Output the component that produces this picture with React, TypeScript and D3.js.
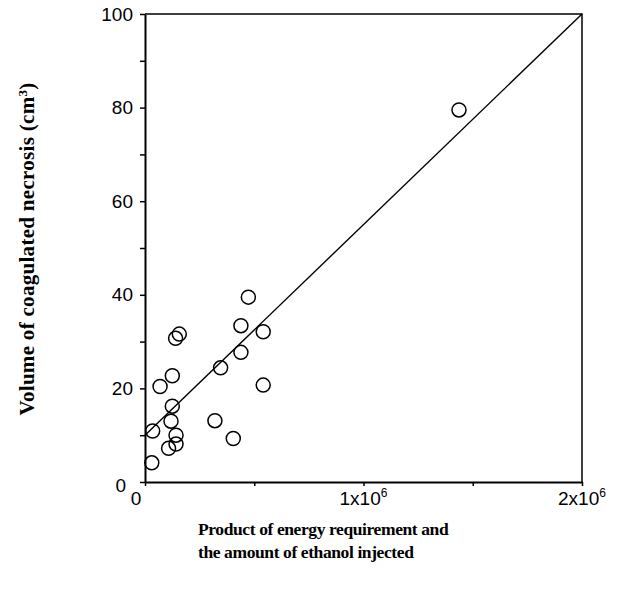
import { useRef, useEffect } from "react";
import * as d3 from "d3";

// energy x ethanol product vs necrosis volume
const energyProduct = [1437000, 473000, 439000, 541000, 157000, 140000, 439000, 346000, 125000, 69000,
  541000, 125000, 119000, 320000, 35000, 142000, 404000, 142000, 108000, 31000];
const necrosisVolume = [79.5, 39.5, 33.4, 32.1, 31.6, 30.7, 27.7, 24.4, 22.7, 20.4,
  20.7, 16.2, 13.0, 13.1, 10.9, 10.0, 9.3, 8.1, 7.2, 4.1];

// regression line end points
const fitX = [0, 2000000];
const fitY = [10, 100];

const yTicks = [0, 10, 20, 30, 40, 50, 60, 70, 80, 90, 100];
const yLabels = [0, 20, 40, 60, 80, 100];
const xTicks = [0, 500000, 1000000, 1500000, 2000000];
const xLabels = [
  { v: 0, base: "0", sup: "" },
  { v: 1000000, base: "1x10", sup: "6" },
  { v: 2000000, base: "2x10", sup: "6" },
];

export default function App() {
  const svgRef = useRef<SVGSVGElement>(null);

  useEffect(() => {
    const width = 621;
    const height = 593;
    const M = { top: 14, right: 39, bottom: 111, left: 145 };

    const svg = d3.select(svgRef.current).attr("width", width).attr("height", height);
    svg.selectAll("*").remove();

    const x = d3.scaleLinear().domain([0, 2000000]).range([M.left, width - M.right]);
    const y = d3.scaleLinear().domain([0, 100]).range([height - M.bottom, M.top]);

    const tickFont = "'Liberation Sans', Arial, sans-serif";
    const titleFont = "'Liberation Serif', 'Times New Roman', serif";

    // frame (top / right)
    svg.append("path")
      .attr("d", `M${x(0)},${y(100)}H${x(2000000)}V${y(0)}`)
      .attr("fill", "none")
      .attr("stroke", "#000")
      .attr("stroke-width", 1.5);

    // y axis
    const gy = svg.append("g")
      .attr("transform", `translate(${x(0)},0)`)
      .call(d3.axisLeft(y).tickValues(yTicks).tickSize(5).tickSizeOuter(0).tickFormat(() => ""));
    gy.select(".domain").attr("stroke-width", 2);
    gy.selectAll(".tick line").attr("stroke-width", 1.5);

    // x axis
    const gx = svg.append("g")
      .attr("transform", `translate(0,${y(0)})`)
      .call(d3.axisBottom(x).tickValues(xTicks).tickSize(4).tickSizeOuter(0).tickFormat(() => ""));
    gx.select(".domain").attr("stroke-width", 2);
    gx.selectAll(".tick line").attr("stroke-width", 1.5);

    // y tick labels
    svg.append("g")
      .selectAll("text")
      .data(yLabels)
      .join("text")
      .attr("x", (d) => x(0) - (d === 0 ? 19 : 12))
      .attr("y", (d) => y(d) + (d === 0 ? 3 : 0))
      .attr("dy", "0.35em")
      .attr("text-anchor", "end")
      .attr("font-family", tickFont)
      .attr("font-size", 19)
      .text((d) => d);

    // x tick labels
    const xl = svg.append("g")
      .selectAll("text")
      .data(xLabels)
      .join("text")
      .attr("x", (d) => x(d.v) - (d.v === 0 ? 9 : 0))
      .attr("y", y(0) + 23)
      .attr("text-anchor", "middle")
      .attr("font-family", tickFont)
      .attr("font-size", 19);
    xl.append("tspan").text((d) => d.base);
    xl.append("tspan")
      .attr("dy", -8)
      .attr("font-size", 12)
      .text((d) => d.sup);

    // regression line
    const fit = fitX.map((v, i) => [v, fitY[i]] as [number, number]);
    svg.append("path")
      .datum(fit)
      .attr("d", d3.line<[number, number]>().x((d) => x(d[0])).y((d) => y(d[1])))
      .attr("fill", "none")
      .attr("stroke", "#000")
      .attr("stroke-width", 1.4);

    // points
    svg.append("g")
      .selectAll("circle")
      .data(energyProduct.map((v, i) => [v, necrosisVolume[i]]))
      .join("circle")
      .attr("cx", (d) => x(d[0]))
      .attr("cy", (d) => y(d[1]))
      .attr("r", 7)
      .attr("fill", "none")
      .attr("stroke", "#000")
      .attr("stroke-width", 1.5);

    // y title
    const yt = svg.append("text")
      .attr("transform", `translate(27,249) rotate(-90)`)
      .attr("text-anchor", "middle")
      .attr("dy", "0.35em")
      .attr("font-family", titleFont)
      .attr("font-weight", "bold")
      .attr("font-size", 21)
      .attr("letter-spacing", 0.3);
    yt.append("tspan").text("Volume of coagulated necrosis (cm");
    yt.append("tspan").attr("dy", -7).attr("font-size", 13).text("3");
    yt.append("tspan").attr("dy", 7).text(")");

    // x title
    svg.append("g")
      .selectAll("text")
      .data(["Product of energy requirement and", "the amount of ethanol injected"])
      .join("text")
      .attr("x", 198)
      .attr("y", (_, i) => 535 + i * 23)
      .attr("font-family", titleFont)
      .attr("font-weight", "bold")
      .attr("font-size", 17.5)
      .attr("letter-spacing", -0.4)
      .text((d) => d);
  }, []);

  return (
    <div style={{ position: "absolute", left: 0, top: 0 }}>
      <svg ref={svgRef}></svg>
    </div>
  );
}
